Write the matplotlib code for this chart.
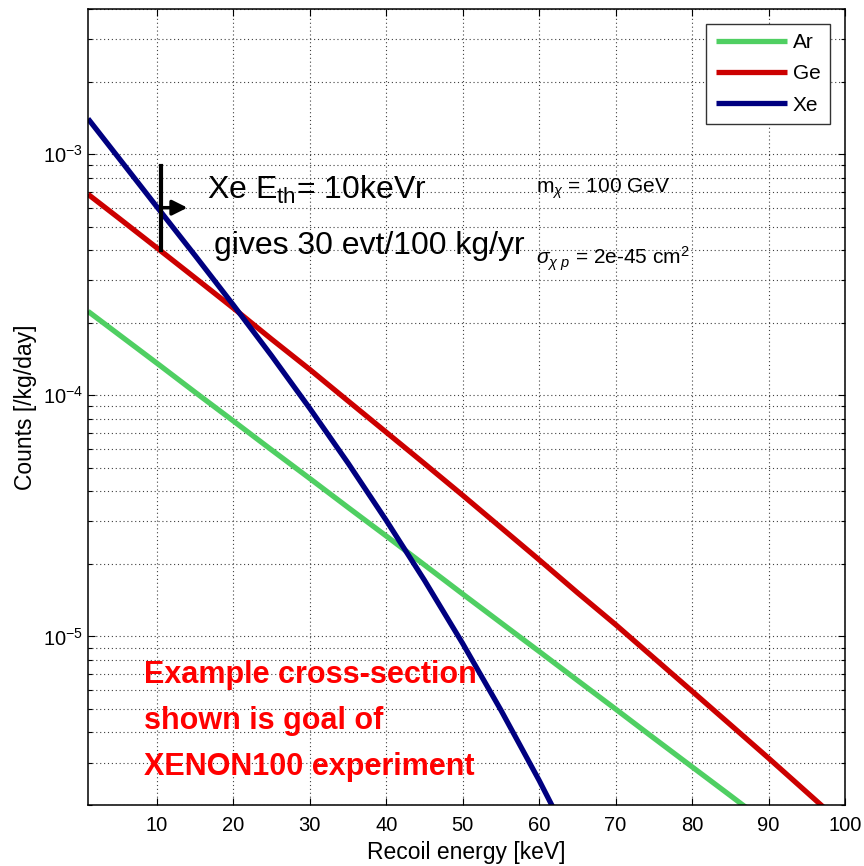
import matplotlib
matplotlib.use("Agg")
import matplotlib.pyplot as plt
from matplotlib import font_manager

# recoil spectra for a 100 GeV WIMP, sigma = 2e-45 cm^2
energy = [1, 5, 10, 15, 20, 25, 30, 35, 40, 45, 50, 55, 60, 65, 70, 75, 80, 85, 90, 95, 100]
rate_ar = [2.23e-4, 1.79e-4, 1.36e-4, 1.03e-4, 7.83e-5, 5.94e-5, 4.52e-5, 3.43e-5, 2.61e-5,
           1.98e-5, 1.50e-5, 1.14e-5, 8.67e-6, 6.58e-6, 5.00e-6, 3.79e-6, 2.88e-6, 2.19e-6,
           1.66e-6]
rate_ge = [6.82e-4, 5.44e-4, 4.09e-4, 3.07e-4, 2.30e-4, 1.71e-4, 1.28e-4, 9.48e-5, 7.03e-5,
           5.21e-5, 3.85e-5, 2.83e-5, 2.08e-5, 1.52e-5, 1.12e-5, 8.15e-6, 5.93e-6, 4.31e-6,
           3.13e-6, 2.26e-6, 1.63e-6]
rate_xe = [1.403e-3, 9.66e-4, 6.05e-4, 3.80e-4, 2.37e-4, 1.46e-4, 8.83e-5, 5.24e-5, 3.03e-5,
           1.71e-5, 9.35e-6, 4.95e-6, 2.53e-6, 1.24e-6]

labels = ['Ar', 'Ge', 'Xe']
colors = ['#4fcf62', '#cc0000', '#000080']
x_ticks = [10, 20, 30, 40, 50, 60, 70, 80, 90, 100]

# Xe threshold marker
e_thresh = 10.5
thresh_span = [4.0e-4, 8.9e-4]
thresh_rate = 6.0e-4


def pick_font(names):
    have = {f.name for f in font_manager.fontManager.ttflist}
    return [n for n in names if n in have] + ['DejaVu Sans']


base = pick_font(['Liberation Sans', 'Arial'])

plt.rcParams['font.family'] = base
plt.rcParams['mathtext.fontset'] = 'custom'
plt.rcParams['mathtext.rm'] = base[0]
plt.rcParams['mathtext.it'] = base[0] + ':italic'

fig = plt.figure(figsize=(8.64, 8.66), dpi=100)
ax = fig.add_axes([0.1019, 0.0704, 0.8761, 0.9192])

series = [rate_ar, rate_ge, rate_xe]
for lab, col, vals in zip(labels, colors, series):
    ax.plot(energy[:len(vals)], vals, color=col, lw=3.8, label=lab, solid_capstyle='butt')

ax.set_yscale('log')
ax.set_xlim(1, 100)
ax.set_ylim(2e-6, 4e-3)
ax.set_xticks(x_ticks)
ax.tick_params(which='both', direction='in', top=True, right=True, labelsize=14.5)
ax.tick_params(axis='x', which='major', pad=8)
ax.tick_params(which='major', length=5, width=0.8)
ax.tick_params(which='minor', length=3, width=0.8)
ax.grid(True, which='both', linestyle=(0, (1, 2.5)), color='0.25', lw=0.8)
for sp in ax.spines.values():
    sp.set_linewidth(1.1)

ax.set_xlabel('Recoil energy [keV]', fontsize=16.5, labelpad=4)
ax.set_ylabel('Counts [/kg/day]', fontsize=16.5, labelpad=4)

leg = ax.legend(loc='upper right', fontsize=15, handlelength=3.4, fancybox=False,
                framealpha=1, edgecolor='0.2', borderaxespad=0.72, labelspacing=0.58,
                handletextpad=0.3, borderpad=0.45)
leg.get_frame().set_linewidth(1.0)

# threshold bar and arrow
ax.plot([e_thresh, e_thresh], thresh_span, color='black', lw=3)
ax.annotate('', xy=(14.0, thresh_rate), xytext=(e_thresh, thresh_rate),
            arrowprops=dict(arrowstyle='-|>,head_length=0.9,head_width=0.45',
                            color='black', lw=2.5, shrinkA=0, shrinkB=0))

ax.text(16.5, 6.5e-4, r'Xe E$\mathregular{_{th}}$= 10keVr', fontsize=23, va='baseline')
ax.text(17.5, 3.85e-4, 'gives 30 evt/100 kg/yr', fontsize=23, va='baseline')

ax.text(59.6, 6.9e-4, r'm$_{\chi}$ = 100 GeV', fontsize=15, va='baseline')
ax.text(59.6, 3.5e-4, r'$\sigma_{\chi\ p}$ = 2e-45 cm$^2$', fontsize=15, va='baseline')

ax.text(8.3, 2.67e-6, 'Example cross-section\nshown is goal of\nXENON100 experiment',
        fontsize=22, fontweight='bold', color='#ff0000', va='baseline',
        linespacing=1.68)

fig.savefig('out.png', dpi=100)
